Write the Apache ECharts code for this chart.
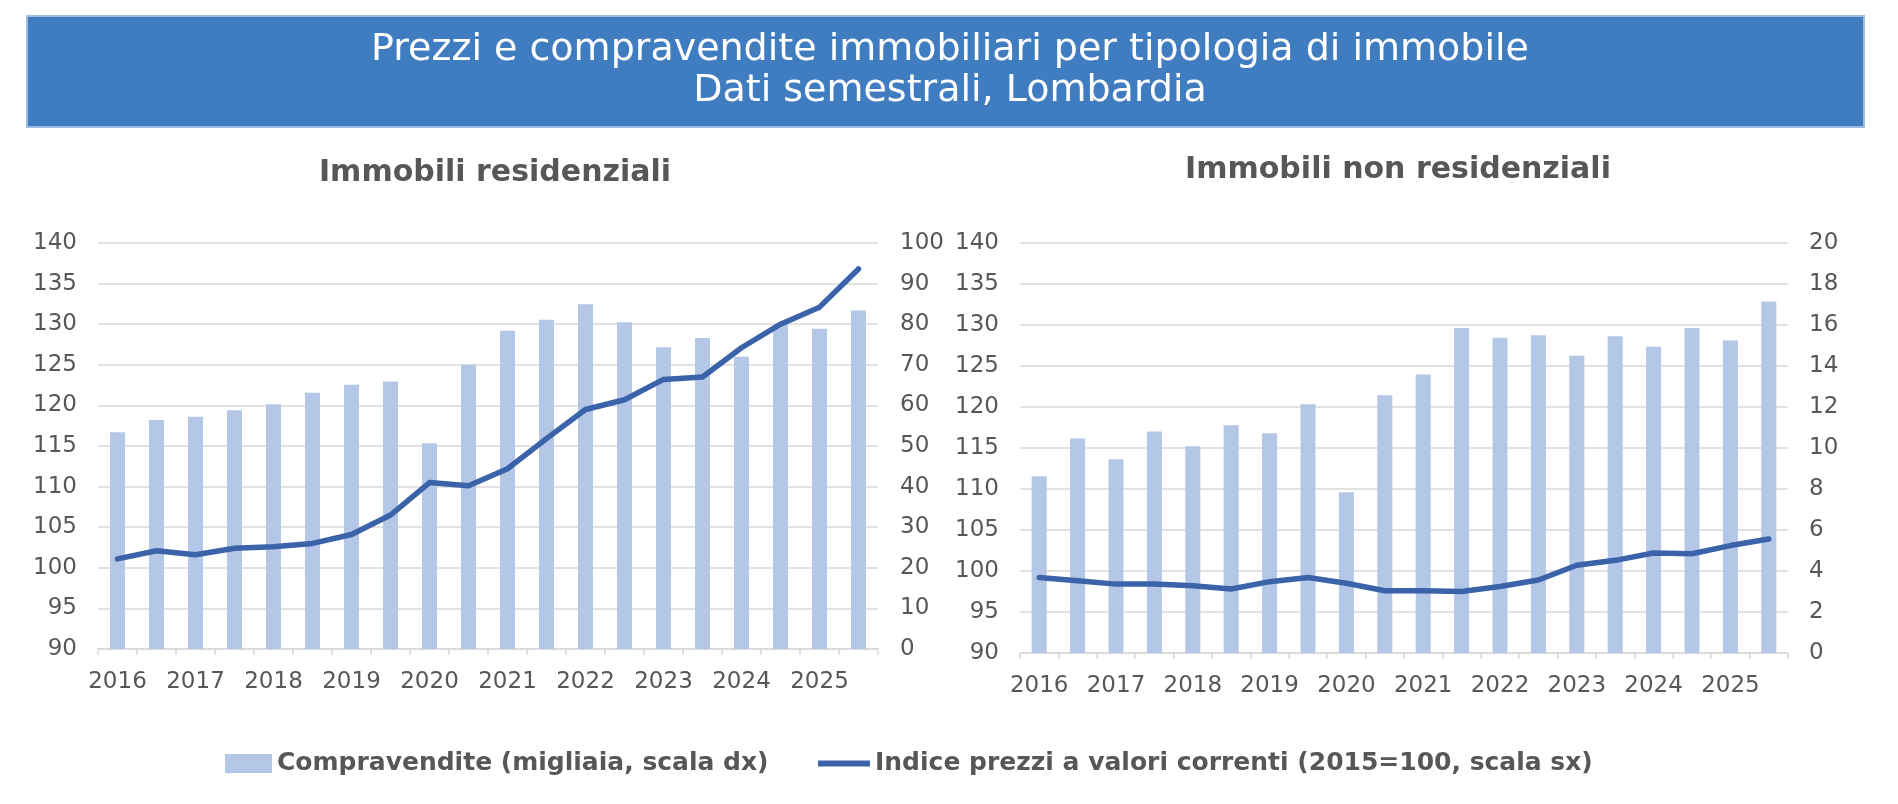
<!DOCTYPE html>
<html>
<head>
<meta charset="utf-8">
<title>Prezzi e compravendite immobiliari - Lombardia</title>
<script src="https://cdn.jsdelivr.net/npm/echarts@6/dist/echarts.min.js"></script>
<style>
  html, body { margin: 0; padding: 0; background: #ffffff; }
  #chart { width: 1898px; height: 804px; }
</style>
</head>
<body>
<div id="chart"></div>
<script>
  // semestri 2016-S1 ... 2025-S2
  const semestri = [
    '2016-S1','2016-S2','2017-S1','2017-S2','2018-S1','2018-S2','2019-S1','2019-S2','2020-S1','2020-S2',
    '2021-S1','2021-S2','2022-S1','2022-S2','2023-S1','2023-S2','2024-S1','2024-S2','2025-S1','2025-S2'
  ]

  // immobili residenziali
  const compravResid = [53.4, 56.4, 57.2, 58.8, 60.3, 63.1, 65.1, 65.9, 50.7, 70.0,
                        78.4, 81.1, 84.9, 80.5, 74.3, 76.6, 72.0, 79.9, 78.9, 83.4]
  const prezziResid = [101.1, 102.1, 101.6, 102.4, 102.6, 103.0, 104.1, 106.5, 110.5, 110.1,
                       112.2, 115.9, 119.5, 120.7, 123.2, 123.5, 127.1, 130.0, 132.1, 136.8]

  // immobili non residenziali
  const compravNonResid = [8.62, 10.46, 9.45, 10.81, 10.08, 11.11, 10.72, 12.13, 7.84, 12.57,
                           13.58, 15.85, 15.38, 15.50, 14.50, 15.45, 14.94, 15.85, 15.24, 17.15]
  const prezziNonResid = [99.2, 98.8, 98.4, 98.4, 98.2, 97.8, 98.7, 99.2, 98.5, 97.6,
                          97.6, 97.5, 98.1, 98.9, 100.7, 101.3, 102.2, 102.1, 103.1, 103.9]

  const nomeBarre = 'Compravendite (migliaia, scala dx)'
  const nomeLinea = 'Indice prezzi a valori correnti (2015=100, scala sx)'

  const grigio = '#575757'
  const fontAssi = 'DejaVu Sans'
  const coloreBarre = '#b4c7e7'
  const coloreLinea = '#3b63a9'

  function assex(gridIndex) {
    return {
      type: 'category',
      gridIndex: gridIndex,
      data: semestri,
      axisLine: { lineStyle: { color: '#d9d9d9', width: 1.5 } },
      axisTick: { show: true, interval: 0, length: 6, lineStyle: { color: '#d9d9d9', width: 1.5 } },
      axisLabel: {
        interval: 1,
        margin: 22,
        color: grigio,
        fontFamily: fontAssi,
        fontSize: 23,
        formatter: function (v) { return v.slice(0, 4) }
      },
      splitLine: { show: false }
    }
  }

  function assey(gridIndex, min, max, step, pos, margin, grid) {
    return {
      type: 'value',
      gridIndex: gridIndex,
      position: pos,
      min: min,
      max: max,
      interval: step,
      axisLine: { show: false },
      axisTick: { show: false },
      axisLabel: {
        margin: margin,
        color: grigio,
        fontFamily: fontAssi,
        fontSize: 23
      },
      splitLine: { show: grid, lineStyle: { color: '#d9d9d9', width: 1.5 } }
    }
  }

  function barre(xi, yi, dati) {
    return {
      name: nomeBarre,
      type: 'bar',
      xAxisIndex: xi,
      yAxisIndex: yi,
      data: dati,
      barWidth: 15,
      itemStyle: { color: coloreBarre },
      z: 2
    }
  }

  function linea(xi, yi, dati) {
    return {
      name: nomeLinea,
      type: 'line',
      xAxisIndex: xi,
      yAxisIndex: yi,
      data: dati,
      showSymbol: false,
      symbol: 'none',
      lineStyle: { color: coloreLinea, width: 5.5, cap: 'round', join: 'round' },
      itemStyle: { color: coloreLinea },
      z: 5
    }
  }

  const chart = echarts.init(document.getElementById('chart'))

  chart.setOption({
    animation: false,
    backgroundColor: '#ffffff',
    graphic: [
      {
        type: 'rect',
        shape: { x: 27, y: 16, width: 1837, height: 111 },
        style: { fill: '#407cc0', stroke: '#9fbde3', lineWidth: 2 },
        z: 0
      }
    ],
    title: [
      {
        text: 'Prezzi e compravendite immobiliari per tipologia di immobile\nDati semestrali, Lombardia',
        left: 945,
        top: 25,
        textAlign: 'center',
        textStyle: {
          color: '#ffffff',
          fontFamily: 'DejaVu Sans',
          fontWeight: 'normal',
          fontSize: 38,
          lineHeight: 41
        }
      },
      {
        text: 'Immobili residenziali',
        left: 490,
        top: 153,
        textAlign: 'center',
        textStyle: { color: grigio, fontFamily: fontAssi, fontWeight: 'bold', fontSize: 30 }
      },
      {
        text: 'Immobili non residenziali',
        left: 1393,
        top: 150,
        textAlign: 'center',
        textStyle: { color: grigio, fontFamily: fontAssi, fontWeight: 'bold', fontSize: 30 }
      }
    ],
    legend: [
      {
        data: [{ name: nomeBarre, icon: 'rect' }],
        left: 220,
        top: 746,
        itemWidth: 47,
        itemHeight: 19,
        selectedMode: false,
        textStyle: { color: grigio, fontFamily: fontAssi, fontWeight: 'bold', fontSize: 25 }
      },
      {
        data: [{ name: nomeLinea, icon: 'rect' }],
        left: 813,
        top: 746,
        itemWidth: 52,
        itemHeight: 6,
        selectedMode: false,
        textStyle: { color: grigio, fontFamily: fontAssi, fontWeight: 'bold', fontSize: 25 }
      }
    ],
    grid: [
      { left: 98, top: 243, width: 780, height: 406 },
      { left: 1020, top: 243, width: 768, height: 410 }
    ],
    xAxis: [assex(0), assex(1)],
    yAxis: [
      assey(0, 90, 140, 5, 'left', 21, true),
      assey(0, 0, 100, 10, 'right', 22, false),
      assey(1, 90, 140, 5, 'left', 21, true),
      assey(1, 0, 20, 2, 'right', 21, false)
    ],
    series: [
      barre(0, 1, compravResid),
      linea(0, 0, prezziResid),
      barre(1, 3, compravNonResid),
      linea(1, 2, prezziNonResid)
    ]
  })
</script>
</body>
</html>
